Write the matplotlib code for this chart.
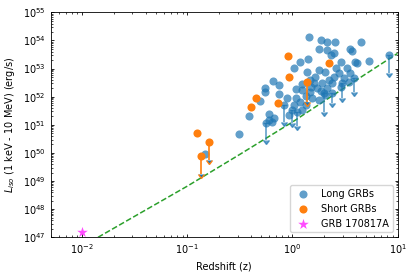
import numpy as np
import matplotlib
matplotlib.use('Agg')
import matplotlib.pyplot as plt

# values, stored as log10(z) and log10(L_iso)
long_logz = [0.155, 0.267, 0.330, 0.403, 0.648, 0.250, 0.329, 0.393, 0.371, 0.552,
             0.567, 0.150, 0.076, 0.019, 0.140, 0.457, 0.616, 0.727, 0.593, 0.250,
             0.314, 0.410, 0.441, 0.521, 0.552, 0.489, 0.393, 0.219, 0.203, 0.283,
             0.330, 0.378, 0.457, 0.536, 0.092, 0.171, 0.235, 0.276, 0.314, -0.188,
             -0.257, -0.257, -0.130, 0.029, 0.086, 0.181, -0.305, -0.050, 0.012, 0.035,
             0.092, -0.414, -0.226, -0.178, -0.226, -0.505, -0.835, -0.130, -0.193, 0.124,
             0.190, 0.248, -0.035, 0.076, 0.133, 0.171, 0.343]
long_logL = [54.12, 54.00, 53.93, 53.94, 53.95, 53.68, 53.66, 53.56, 53.48, 53.68,
             53.64, 53.33, 53.25, 53.01, 52.89, 53.24, 53.21, 53.28, 53.24, 52.95,
             52.89, 53.01, 52.83, 53.01, 52.83, 52.65, 52.71, 52.71, 52.48, 52.48,
             52.30, 52.48, 52.36, 52.53, 52.24, 52.18, 52.31, 52.20, 52.06, 52.56,
             52.30, 52.18, 52.10, 52.26, 52.44, 52.36, 51.83, 51.94, 51.70, 51.94,
             51.53, 51.31, 51.38, 51.23, 51.17, 50.66, 49.97, 52.42, 51.11, 52.02,
             51.95, 51.88, 51.35, 51.82, 51.70, 52.59, 52.59]

# long GRBs that are upper limits (arrow length in dex)
long_ul_logz = [0.917, 0.467, 0.584, -0.083, -0.003, 0.045, -0.250, 0.298, 0.378]
long_ul_logL = [53.48, 52.49, 52.65, 51.70, 51.53, 51.47, 51.08, 52.12, 52.13]
long_ul_len = [0.65, 0.53, 0.48, 0.59, 0.47, 0.53, 0.62, 0.65, 0.36]

short_logz = [-0.908, -0.041, -0.035, -0.343, -0.390, -0.136, 0.350]
short_logL = [50.72, 53.45, 52.71, 51.96, 51.62, 51.77, 53.19]

short_ul_logz = [-0.790, -0.870, 0.140]
short_ul_logL = [50.40, 49.90, 52.52]
short_ul_len = [0.65, 0.65, 0.70]

# GRB 170817A
z_170817 = 0.01
L_170817 = 1.5e47

# detection threshold curve
thr_logz = [-1.85, -1.5, -1.0, -0.5, 0.0, 0.5, 1.0]
thr_logL = [47.0, 47.75, 48.82, 49.95, 51.1, 52.33, 53.54]

plt.rcParams['font.size'] = 7
plt.rcParams['axes.linewidth'] = 0.6

fig = plt.figure(figsize=(4.15, 2.74), dpi=100)
ax = fig.add_axes([0.122, 0.134, 0.836, 0.821])

def ul_err(logL, length):
    L = 10 ** np.array(logL)
    return L * (1 - 10 ** (-np.array(length)))

zl = 10 ** np.array(long_logz + long_ul_logz)
Ll = 10 ** np.array(long_logL + long_ul_logL)
ax.scatter(zl, Ll, s=34, color='C0', alpha=0.7, lw=0, label='Long GRBs', zorder=3)
ax.errorbar(10 ** np.array(long_ul_logz), 10 ** np.array(long_ul_logL),
            yerr=ul_err(long_ul_logL, long_ul_len), uplims=True, fmt='none',
            ecolor='C0', alpha=0.7, elinewidth=1.2, capsize=2, zorder=3)

zs = 10 ** np.array(short_logz + short_ul_logz)
Ls = 10 ** np.array(short_logL + short_ul_logL)
ax.errorbar(10 ** np.array(short_ul_logz), 10 ** np.array(short_ul_logL),
            yerr=ul_err(short_ul_logL, short_ul_len), uplims=True, fmt='none',
            ecolor='C1', elinewidth=1.2, capsize=2, zorder=4)
ax.scatter(zs, Ls, s=34, color='C1', lw=0, label='Short GRBs', zorder=4)

ax.scatter([z_170817], [L_170817], s=65, marker='*', color='magenta', alpha=0.7,
           lw=0, label='GRB 170817A', zorder=5)

ax.plot(10 ** np.array(thr_logz), 10 ** np.array(thr_logL), '--', color='C2', lw=1.1, zorder=2)

ax.set_xscale('log')
ax.set_yscale('log')
ax.set_xlim(0.005, 10)
ax.set_ylim(1e47, 1e55)
ax.set_yticks([10.0 ** k for k in range(47, 56)])
ax.tick_params(which='both', direction='in', top=True, right=True)
ax.tick_params(which='major', length=2.5, width=0.6)
ax.tick_params(which='minor', length=1.5, width=0.5)
ax.set_xlabel('Redshift (z)')
ax.set_ylabel('$L_{iso}$ (1 keV - 10 MeV) (erg/s)')
ax.legend(loc='lower right', fontsize=7)

fig.savefig('out.png', dpi=100)
